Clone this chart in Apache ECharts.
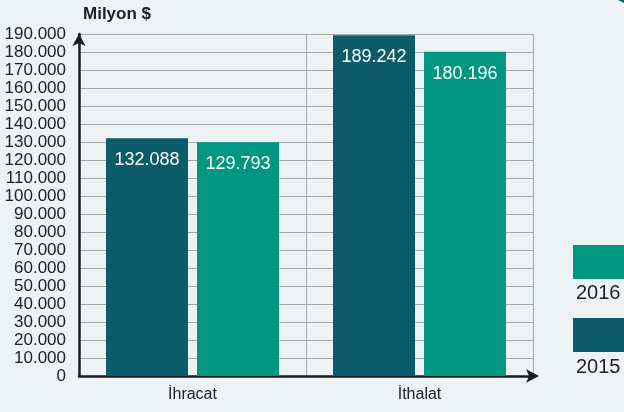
<!DOCTYPE html>
<html>
<head>
<meta charset="utf-8">
<script src="https://cdn.jsdelivr.net/npm/echarts@6/dist/echarts.min.js"></script>
<style>
html,body{margin:0;padding:0;background:#edf2f5;}
#c{width:624px;height:412px;}
</style>
</head>
<body>
<div id="c"></div>
<script>
var categories = ['İhracat', 'İthalat'];
var years = ['2015', '2016'];
var values2015 = [132088, 189242];
var values2016 = [129793, 180196];
var yTicks = { min: 0, max: 190000, interval: 10000 };
var colors = { y2015: '#0b5b69', y2016: '#009782' };

function fmt(v) {
  return String(v).replace(/\B(?=(\d{3})+(?!\d))/g, '.');
}

var FONT = '"Liberation Sans", Arial, sans-serif';
var chart = echarts.init(document.getElementById('c'), null, { renderer: 'canvas' });

var labelStyle = {
  show: true,
  position: 'insideTop',
  distance: 13,
  color: '#ffffff',
  fontFamily: FONT,
  fontSize: 18,
  formatter: function (p) { return fmt(p.value); }
};

chart.setOption({
  backgroundColor: '#edf2f5',
  animation: false,
  title: {
    text: 'Milyon $',
    left: 78,
    top: 1,
    textStyle: { fontFamily: FONT, fontWeight: 'bold', fontSize: 17, color: '#222' }
  },
  grid: { left: 79, right: 91, top: 34, bottom: 36, containLabel: false },
  xAxis: {
    type: 'category',
    data: categories,
    axisLine: {
      show: true,
      symbol: ['none', 'arrow'],
      symbolSize: [10, 13],
      symbolOffset: [0, 6],
      lineStyle: { color: '#1a1a1a', width: 2.5 }
    },
    axisTick: { show: false },
    splitLine: { show: true, lineStyle: { color: '#a8a8a8', width: 1 } },
    axisLabel: { margin: 11, color: '#222', fontFamily: FONT, fontSize: 16 }
  },
  yAxis: {
    type: 'value',
    min: yTicks.min,
    max: yTicks.max,
    interval: yTicks.interval,
    axisLine: {
      show: true,
      symbol: ['none', 'arrow'],
      symbolSize: [10, 12],
      lineStyle: { color: '#1a1a1a', width: 2.5 }
    },
    axisTick: { show: false },
    splitLine: { show: true, lineStyle: { color: '#a8a8a8', width: 1 } },
    axisLabel: {
      margin: 13,
      color: '#222',
      fontFamily: FONT,
      fontSize: 17,
      formatter: function (v) { return fmt(v); }
    }
  },
  series: [
    {
      name: years[0],
      type: 'bar',
      data: values2015,
      barWidth: 82,
      barGap: '11%',
      itemStyle: { color: colors.y2015 },
      label: labelStyle,
      z: 3
    },
    {
      name: years[1],
      type: 'bar',
      data: values2016,
      barWidth: 82,
      barGap: '11%',
      itemStyle: { color: colors.y2016 },
      label: labelStyle,
      z: 3
    }
  ],
  graphic: [
    { type: 'polygon', shape: { points: [[618, 0], [624, 0], [624, 3]] }, style: { fill: colors.y2015 } },
    { type: 'rect', shape: { x: 573, y: 245, width: 60, height: 34 }, style: { fill: colors.y2016 } },
    { type: 'text', x: 576, y: 283, style: { text: years[1], fill: '#222', font: '20px ' + FONT } },
    { type: 'rect', shape: { x: 573, y: 318, width: 60, height: 34 }, style: { fill: colors.y2015 } },
    { type: 'text', x: 576, y: 357, style: { text: years[0], fill: '#222', font: '20px ' + FONT } }
  ]
});
</script>
</body>
</html>
